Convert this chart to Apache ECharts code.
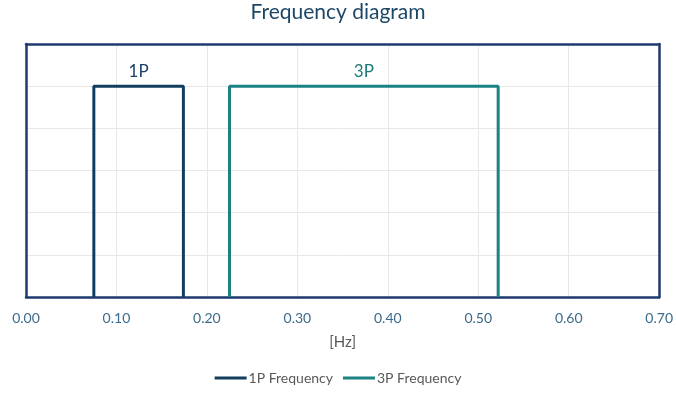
<!DOCTYPE html>
<html>
<head>
<meta charset="utf-8">
<script src="https://cdn.jsdelivr.net/npm/echarts@6/dist/echarts.min.js"></script>
<style>
	html, body { margin: 0; padding: 0; background: #fff; }
	#main { width: 676px; height: 394px; }
</style>
</head>
<body>
<div id="main"></div>
<script>
// frequency bands [Hz]
var band1P = [0.075, 0.174];
var band3P = [0.225, 0.522];
var bandLevel = 1;
var xTicks = [0, 0.1, 0.2, 0.3, 0.4, 0.5, 0.6, 0.7];
var seriesNames = ['1P Frequency', '3P Frequency'];
var bandLabels = ['1P', '3P'];
var colors = ['#123e5e', '#1a8282'];

/* rectangle outline for a band, label sits on the middle of the top edge */
function bandPoints(band, label){
	var mid = (band[0] + band[1]) / 2;
	return [
		[band[0], 0],
		[band[0], bandLevel],
		{ value: [mid, bandLevel], label: { show: true, formatter: label } },
		[band[1], bandLevel],
		[band[1], 0]
	];
}

var chart = echarts.init(document.getElementById('main'));
var font = 'Lato, "Open Sans", sans-serif';
var borderColor = '#1f3a6e';
var gridColor = '#e8e8e8';

// axis used only as a frame side
function frameAxis(extra){
	var a = {
		type: 'value',
		axisLine: { show: true, onZero: false, lineStyle: { color: borderColor, width: 2.5 } },
		axisTick: { show: false },
		axisLabel: { show: false },
		splitLine: { show: false }
	};
	for (var k in extra) a[k] = extra[k];
	return a;
}

chart.setOption({
	animation: false,
	textStyle: { fontFamily: font },
	title: {
		text: 'Frequency diagram',
		left: 'center',
		top: -3,
		textStyle: { fontSize: 21, fontWeight: 'normal', color: '#1c4766', fontFamily: font }
	},
	legend: {
		data: seriesNames,
		bottom: 4,
		left: 'center',
		icon: 'rect',
		itemWidth: 32,
		itemHeight: 3,
		itemGap: 10,
		textStyle: { fontSize: 14, color: '#595959', padding: [0, 0, 0, -3] }
	},
	grid: {
		left: 26,
		right: 14,
		top: 44,
		bottom: 97,
		containLabel: false
	},
	xAxis: [
		{
			type: 'value',
			min: xTicks[0],
			max: xTicks[xTicks.length - 1],
			interval: 0.1,
			name: '[Hz]',
			nameLocation: 'middle',
			nameGap: 38,
			nameTextStyle: { fontSize: 15, color: '#595959' },
			axisLine: { show: true, onZero: false, lineStyle: { color: borderColor, width: 2.5 } },
			axisTick: { show: false },
			axisLabel: {
				margin: 14,
				fontSize: 14,
				color: '#3b6a8c',
				formatter: function(v){ return v.toFixed(2); }
			},
			splitLine: { show: true, lineStyle: { color: gridColor, width: 1 } }
		},
		frameAxis({ position: 'top', min: 0, max: 0.7 })
	],
	yAxis: [
		{
			type: 'value',
			min: 0,
			max: 1.2,
			interval: 0.2,
			axisLine: { show: true, onZero: false, lineStyle: { color: borderColor, width: 2.5 } },
			axisTick: { show: false },
			axisLabel: { show: false },
			splitLine: { show: true, lineStyle: { color: gridColor, width: 1 } }
		},
		frameAxis({ position: 'right', min: 0, max: 1.2 })
	],
	series: [
		{
			name: seriesNames[0],
			type: 'line',
			data: bandPoints(band1P, bandLabels[0]),
			symbol: 'circle',
			symbolSize: 0,
			showSymbol: true,
			color: colors[0],
			lineStyle: { width: 3, color: colors[0] },
			label: { position: 'top', distance: 6, fontSize: 17, color: '#1c3f6a' },
			z: 3
		},
		{
			name: seriesNames[1],
			type: 'line',
			data: bandPoints(band3P, bandLabels[1]),
			symbol: 'circle',
			symbolSize: 0,
			showSymbol: true,
			color: colors[1],
			lineStyle: { width: 3, color: colors[1] },
			label: { position: 'top', distance: 6, fontSize: 17, color: '#1a7a7a' },
			z: 3
		}
	]
});
</script>
</body>
</html>
